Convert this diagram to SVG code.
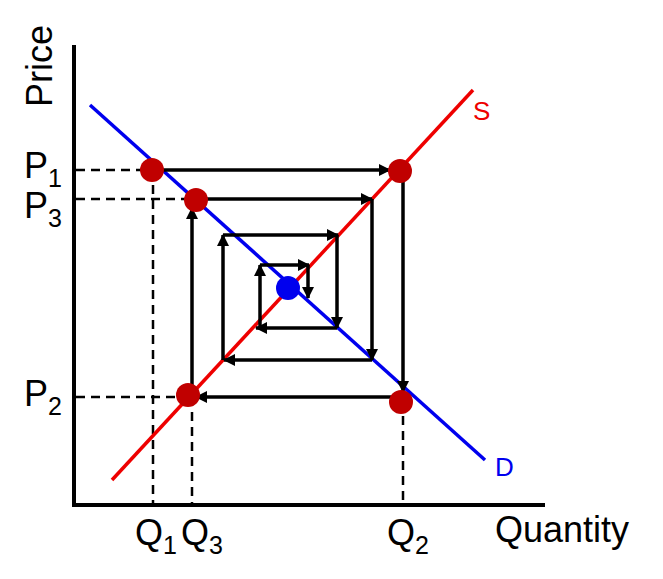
<svg xmlns="http://www.w3.org/2000/svg" width="663" height="579" viewBox="0 0 663 579">
<defs>
<marker id="ah" markerWidth="12" markerHeight="12" refX="11" refY="6" orient="auto" markerUnits="userSpaceOnUse"><path d="M0,0 L12,6 L0,12 Z" fill="#000"/></marker>
<style>
.t{font-family:"Liberation Sans",Arial,sans-serif;font-size:36px;fill:#000}
.s{font-size:25px}
.ax{stroke:#000;stroke-width:4;fill:none}
.dash{stroke:#000;stroke-width:2.5;stroke-dasharray:9,6;fill:none}
.ar{stroke:#000;stroke-width:3.5;fill:none;marker-end:url(#ah)}
.rd{fill:#c00000}
</style>
</defs>
<rect width="663" height="579" fill="#fff"/>
<g id="axes">
<path class="ax" d="M74,45 V505 H545"/>
</g>
<g id="dashes">
<path class="dash" d="M76,170 H152 M153,170 V503 M76,199 H195 M192,397 V503 M76,397 H190 M403,401 V503"/>
</g>
<g id="curves">
<line x1="90" y1="105" x2="485" y2="460" stroke="#0000ee" stroke-width="3.5"/>
<line x1="112" y1="480" x2="473" y2="90" stroke="#ee0000" stroke-width="3.5"/>
</g>
<g id="connectors">
<line class="ar" x1="152" y1="170" x2="390" y2="170"/>
<line class="ar" x1="403" y1="170" x2="403" y2="392"/>
<line class="ar" x1="403" y1="397" x2="196" y2="397"/>
<line class="ar" x1="192" y1="397" x2="192" y2="208"/>
<line class="ar" x1="192" y1="199" x2="372" y2="199"/>
<line class="ar" x1="372" y1="199" x2="372" y2="360"/>
<line class="ar" x1="372" y1="360" x2="224" y2="360"/>
<line class="ar" x1="223" y1="360" x2="223" y2="235"/>
<line class="ar" x1="223" y1="235" x2="338" y2="235"/>
<line class="ar" x1="337" y1="235" x2="337" y2="328"/>
<line class="ar" x1="337" y1="328" x2="256" y2="328"/>
<line class="ar" x1="260" y1="328" x2="260" y2="265"/>
<line class="ar" x1="260" y1="265" x2="309" y2="265"/>
<line class="ar" x1="308" y1="265" x2="308" y2="298"/>
</g>
<g id="points">
<circle class="rd" cx="152" cy="170" r="12"/>
<circle class="rd" cx="400" cy="171" r="12"/>
<circle class="rd" cx="196" cy="200" r="12"/>
<circle class="rd" cx="188" cy="395" r="12"/>
<circle class="rd" cx="401" cy="402" r="12"/>
<circle cx="288" cy="288" r="12" fill="#0000ee"/>
</g>
<g id="labels">
<text class="t" transform="translate(52,107) rotate(-90)">Price</text>
<text class="t" x="24" y="178">P<tspan class="s" dy="9">1</tspan></text>
<text class="t" x="24" y="218">P<tspan class="s" dy="9">3</tspan></text>
<text class="t" x="24" y="406">P<tspan class="s" dy="9">2</tspan></text>
<text class="t" x="135" y="545">Q<tspan class="s" dy="9">1</tspan></text>
<text class="t" x="181" y="545">Q<tspan class="s" dy="9">3</tspan></text>
<text class="t" x="387" y="545">Q<tspan class="s" dy="9">2</tspan></text>
<text class="t" x="495" y="542">Quantity</text>
<text class="t" x="473" y="120" style="font-size:26px;fill:#ee0000">S</text>
<text class="t" x="495" y="476" style="font-size:26px;fill:#0000ee">D</text>
</g>
</svg>
